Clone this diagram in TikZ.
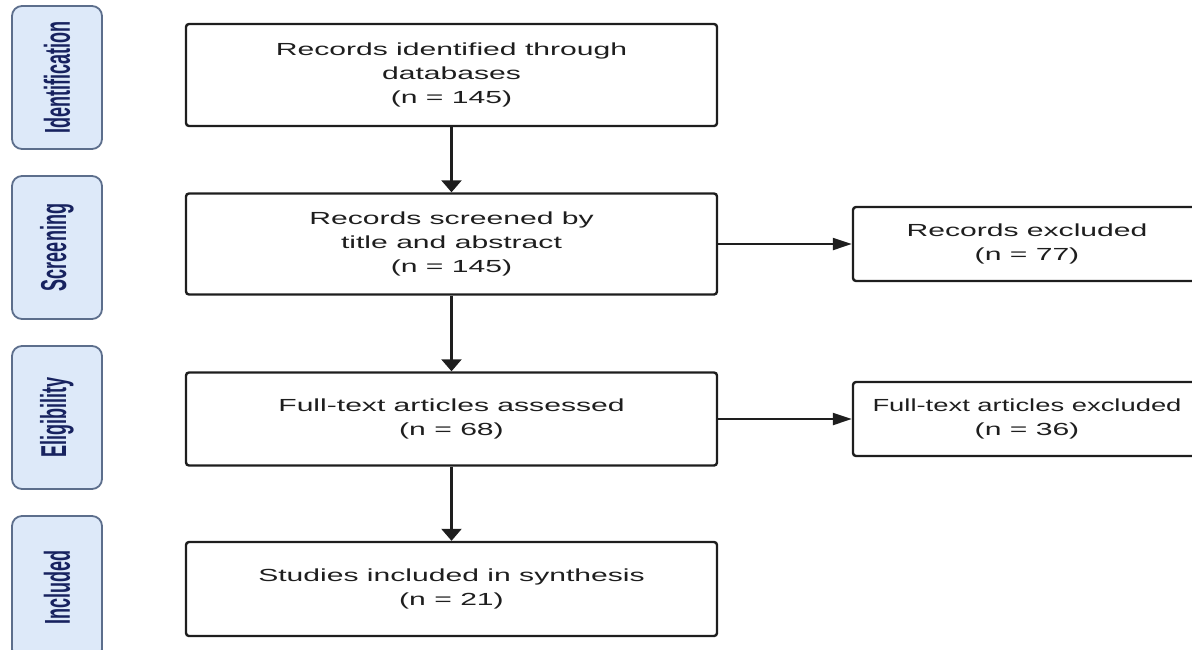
\documentclass[tikz,border=0pt]{standalone}
\usepackage{graphicx}
\usepackage{fontspec}
\newfontfamily\boxfont[FakeStretch=1.72]{Liberation Sans}
\newfontfamily\stagefont[FakeStretch=0.5]{Liberation Sans}
\usepackage{tikz}
\usetikzlibrary{arrows.meta}
\definecolor{stagefill}{HTML}{DDE9F9}
\definecolor{stageline}{HTML}{5C6E8C}
\definecolor{stagetext}{HTML}{17225F}
\definecolor{boxline}{HTML}{1E1E1E}

\begin{document}
\begin{tikzpicture}[x=0.5pt,y=-0.5pt,
	stagebox/.style={draw=stageline,fill=stagefill,line width=0.9pt,rounded corners=5pt,rotate=90,minimum width=71.5pt,minimum height=45pt,inner sep=0pt,text=stagetext,font=\stagefont\bfseries\fontsize{18}{20}\selectfont},
	flowbox/.style={draw=boxline,line width=1.2pt,rounded corners=1.5pt,minimum width=265.5pt,inner sep=0pt,align=center,text=boxline,font=\boxfont\fontsize{8.75}{12}\selectfont},
	sidebox/.style={flowbox,minimum width=174pt,minimum height=37pt},
	downarrow/.style={-{Triangle[length=6pt,width=10pt]},line width=1.2pt,draw=boxline},
	sidearrow/.style={-{Triangle[length=9.5pt,width=6pt]},line width=1.1pt,draw=boxline}]
		\useasboundingbox (0,0) rectangle (1192,649);
		\clip (0,0) rectangle (1192,649);
		% stages on the left
		\node[stagebox] (ident) at (57,77.5) {Identification};
		\node[stagebox] (screen) at (57,247.5) {Screening};
		\node[stagebox] (elig) at (57,417.5) {Eligibility};
		\node[stagebox] (incl) at (57,587.5) {Included};
		% main column
		\node[flowbox,minimum height=51pt] (found) at (451.5,75) {Records identified through\\databases\\(n = 145)};
		\node[flowbox,minimum height=50.5pt] (screened) at (451.5,244) {Records screened by\\title and abstract\\(n = 145)};
		\node[flowbox,minimum height=46.5pt] (assessed) at (451.5,419) {Full-text articles assessed\\(n = 68)};
		\node[flowbox,minimum height=47pt] (included) at (451.5,589) {Studies included in synthesis\\(n = 21)};
		% exclusions
		\node[sidebox] (excluded) at (1027,244) {Records excluded\\(n = 77)};
		\node[sidebox] (ftexcluded) at (1027,419) {\scalebox{0.91}[1]{Full-text articles excluded}\\(n = 36)};
		\draw[downarrow] (found) -- (screened);
		\draw[downarrow] (screened) -- (assessed);
		\draw[downarrow] (assessed) -- (included);
		\draw[sidearrow] (screened) -- (excluded);
		\draw[sidearrow] (assessed) -- (ftexcluded);
\end{tikzpicture}
\end{document}
